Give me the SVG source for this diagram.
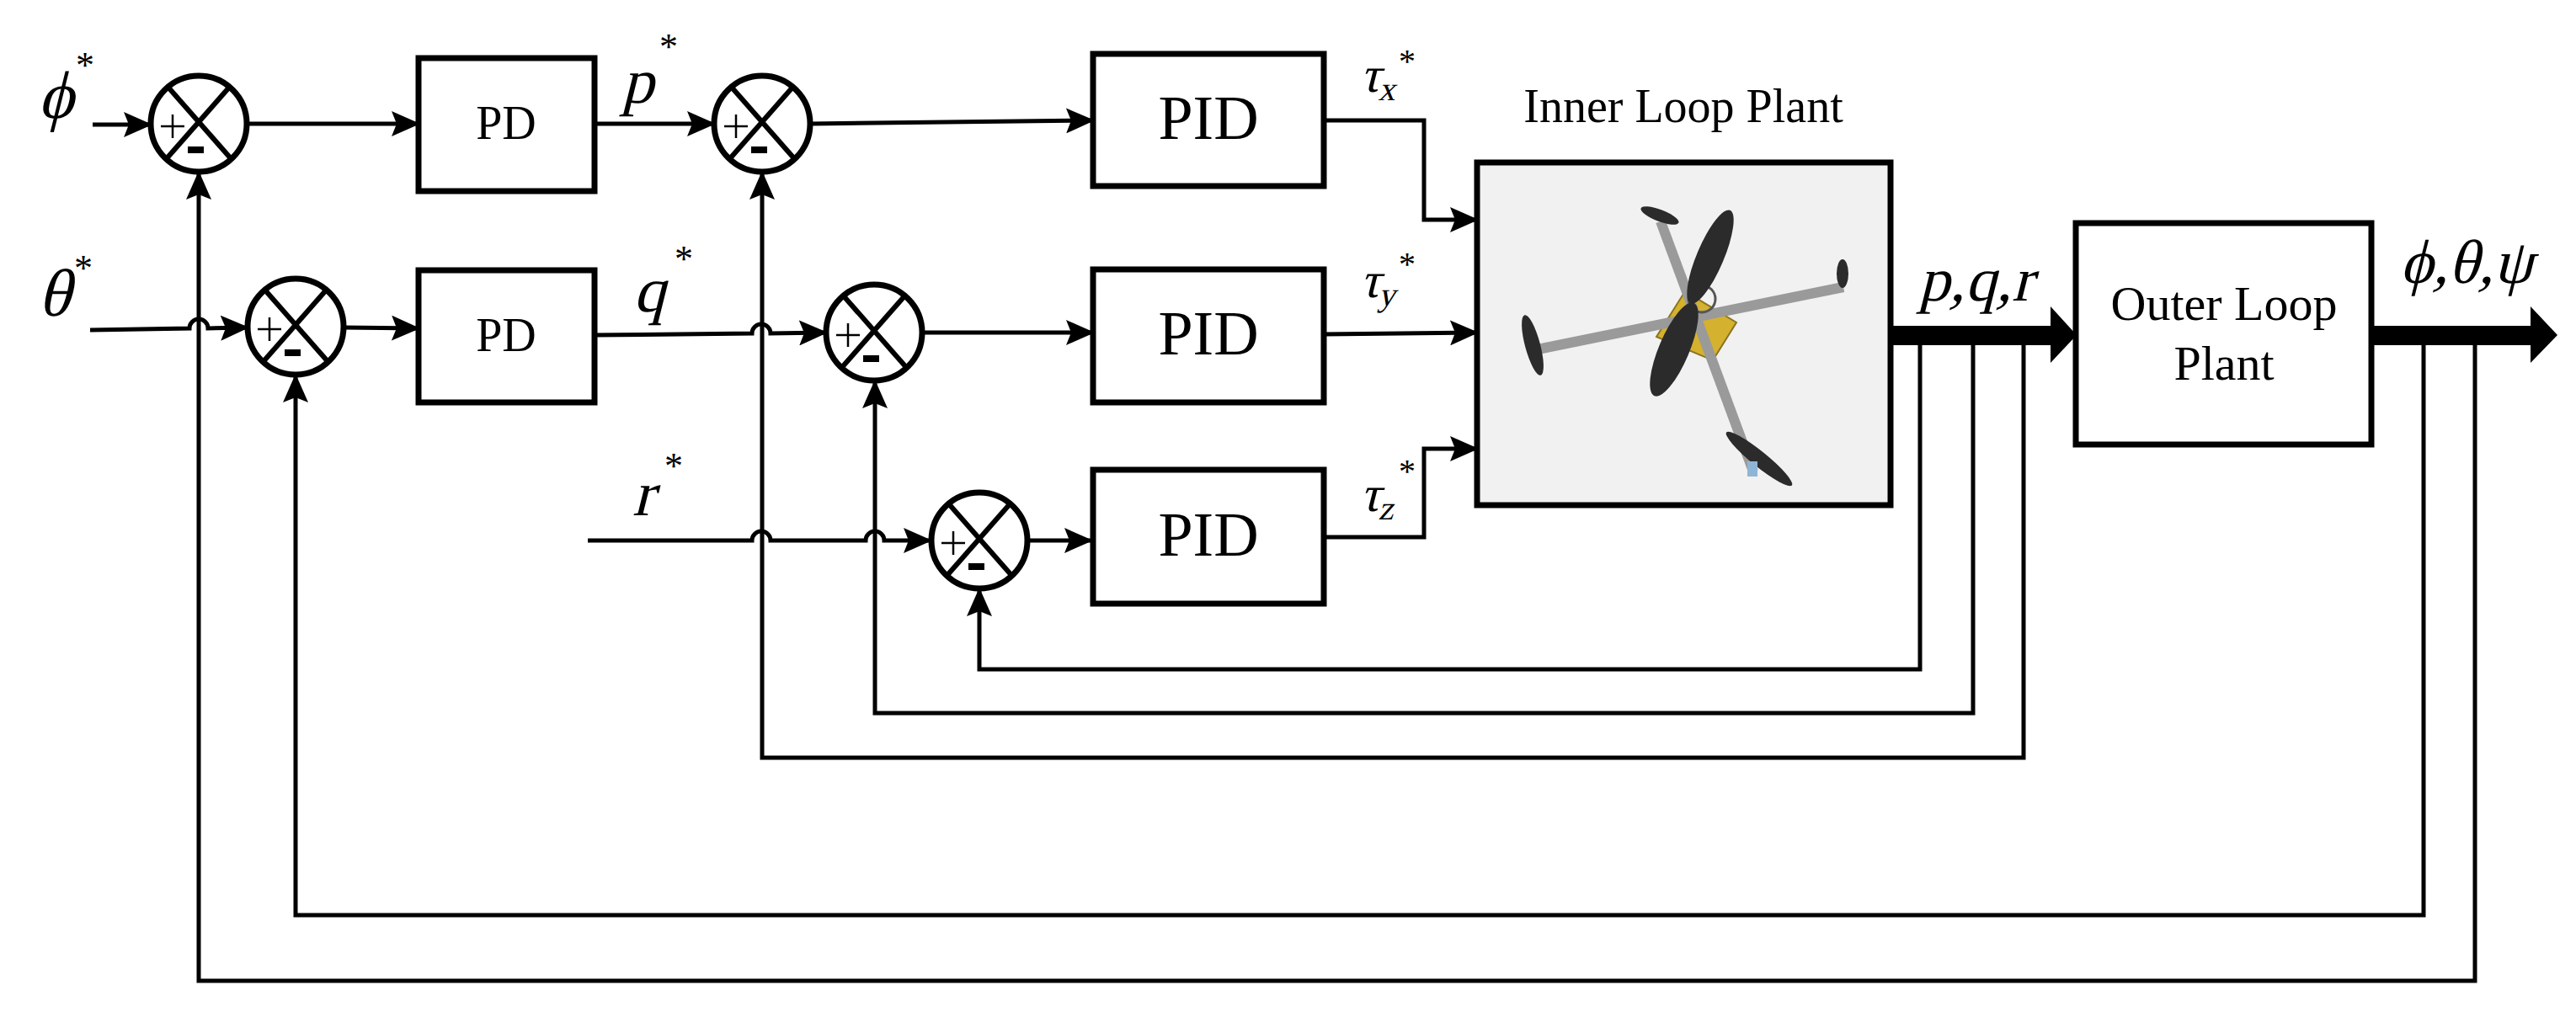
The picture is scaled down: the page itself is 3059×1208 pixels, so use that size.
<svg xmlns="http://www.w3.org/2000/svg" width="3059" height="1208" viewBox="0 0 3059 1208">
<style>
.box{fill:#fff;stroke:#000;stroke-width:7}
.sum{fill:#fff;stroke:#000;stroke-width:7}
.ln{fill:none;stroke:#000;stroke-width:5}
.t{font-family:"Liberation Serif",serif;fill:#000}
</style>
<defs>
<marker id="ah" markerUnits="userSpaceOnUse" markerWidth="34" markerHeight="30" refX="32" refY="15" orient="auto"><path d="M0,0 L34,15 L0,30 L6,15 Z" fill="#000"/></marker>
<g id="sumsym">
<circle r="57" class="sum"/>
<line x1="-35" y1="-42" x2="37" y2="40" stroke="#000" stroke-width="6"/>
<line x1="35" y1="-42" x2="-37" y2="40" stroke="#000" stroke-width="6"/>
<line x1="-45" y1="3" x2="-17" y2="3" stroke="#000" stroke-width="2.5"/>
<line x1="-31" y1="-11" x2="-31" y2="17" stroke="#000" stroke-width="2.5"/>
<rect x="-13" y="27" width="19" height="8" fill="#000"/>
</g>
</defs>
<rect width="3059" height="1208" fill="#fff"/>

<g id="connectors">
<path class="ln" d="M110,148 H179" marker-end="url(#ah)"/>
<path class="ln" d="M293,147 H497" marker-end="url(#ah)"/>
<path class="ln" d="M706,147 H848" marker-end="url(#ah)"/>
<path class="ln" d="M962,147 L1298,143" marker-end="url(#ah)"/>
<path class="ln" d="M1572,143 H1691 V261 H1754" marker-end="url(#ah)"/>
<path class="ln" d="M107,392 L225,390 A11,11 0 0 1 247,390 L294,389" marker-end="url(#ah)"/>
<path class="ln" d="M408,389 L497,390" marker-end="url(#ah)"/>
<path class="ln" d="M706,398 L893,396 A11,11 0 0 1 915,396 L981,395" marker-end="url(#ah)"/>
<path class="ln" d="M1095,395 L1298,395" marker-end="url(#ah)"/>
<path class="ln" d="M1572,397 L1754,395" marker-end="url(#ah)"/>
<path class="ln" d="M698,642 H893 A11,11 0 0 1 915,642 H1028 A11,11 0 0 1 1050,642 H1105" marker-end="url(#ah)"/>
<path class="ln" d="M1221,642 H1296" marker-end="url(#ah)"/>
<path class="ln" d="M1572,638 H1691 V533 H1754" marker-end="url(#ah)"/>
<rect x="2245" y="387" width="192" height="23" fill="#000"/>
<polygon points="2435,364 2466,398 2435,431" fill="#000"/>
<rect x="2816" y="387" width="192" height="23" fill="#000"/>
<polygon points="3005,364 3037,398 3005,431" fill="#000"/>
<path class="ln" d="M2280,410 V795 H1163 V700" marker-end="url(#ah)"/>
<path class="ln" d="M2343,410 V847 H1039 V453" marker-end="url(#ah)"/>
<path class="ln" d="M2403,410 V900 H905 V205" marker-end="url(#ah)"/>
<path class="ln" d="M2878,410 V1087 H351 V446" marker-end="url(#ah)"/>
<path class="ln" d="M2939,410 V1165 H236 V205" marker-end="url(#ah)"/>
</g>

<g id="sum1"><use href="#sumsym" x="236" y="147"/></g>
<g id="sum2"><use href="#sumsym" x="905" y="147"/></g>
<g id="sum3"><use href="#sumsym" x="351" y="388"/></g>
<g id="sum4"><use href="#sumsym" x="1038" y="395"/></g>
<g id="sum5"><use href="#sumsym" x="1163" y="642"/></g>

<g id="pd1"><rect class="box" x="497" y="69" width="209" height="158"/><text class="t" x="601" y="165" font-size="56" text-anchor="middle">PD</text></g>
<g id="pd2"><rect class="box" x="497" y="321" width="209" height="157"/><text class="t" x="601" y="417" font-size="56" text-anchor="middle">PD</text></g>
<g id="pid1"><rect class="box" x="1298" y="64" width="274" height="157"/><text class="t" x="1435" y="165" font-size="74" text-anchor="middle">PID</text></g>
<g id="pid2"><rect class="box" x="1298" y="320" width="274" height="158"/><text class="t" x="1435" y="421" font-size="74" text-anchor="middle">PID</text></g>
<g id="pid3"><rect class="box" x="1298" y="558" width="274" height="159"/><text class="t" x="1435" y="660" font-size="74" text-anchor="middle">PID</text></g>

<g id="inner">
<rect x="1754" y="193" width="491" height="407" fill="#f1f1f1" stroke="#000" stroke-width="7"/>
<text class="t" x="1999" y="145" font-size="56" text-anchor="middle">Inner Loop Plant</text>
<polygon points="1967,400 2001,346 2062,383 2034,428" fill="#d4b12e" stroke="#8a7420" stroke-width="2"/>
<line x1="1972" y1="263" x2="2082" y2="560" stroke="#9a9a9a" stroke-width="12"/>
<line x1="1821" y1="416" x2="2189" y2="341" stroke="#9a9a9a" stroke-width="12"/>
<circle cx="2021" cy="355" r="16" fill="none" stroke="#555" stroke-width="3"/>
<ellipse cx="2031" cy="305" rx="60" ry="16" transform="rotate(-67 2031 305)" fill="#2b2b2b"/>
<ellipse cx="1988" cy="415" rx="60" ry="18" transform="rotate(-67 1988 415)" fill="#2b2b2b"/>
<ellipse cx="1971" cy="256" rx="24" ry="7" transform="rotate(21 1971 256)" fill="#2b2b2b"/>
<ellipse cx="1820" cy="410" rx="37" ry="9" transform="rotate(75 1820 410)" fill="#2b2b2b"/>
<ellipse cx="2188" cy="325" rx="17" ry="7" transform="rotate(90 2188 325)" fill="#2b2b2b"/>
<ellipse cx="2089" cy="545" rx="50" ry="9" transform="rotate(39 2089 545)" fill="#2b2b2b"/>
<rect x="2075" y="548" width="12" height="18" fill="#8fb5d6"/>
</g>

<g id="outer"><rect class="box" x="2465" y="265" width="351" height="263"/>
<text class="t" x="2641" y="380" font-size="58" text-anchor="middle">Outer Loop</text>
<text class="t" x="2641" y="451" font-size="58" text-anchor="middle">Plant</text></g>

<g id="labels">
<text class="t" transform="translate(45,140) skewX(-14)" font-size="80">ϕ</text><text class="t" x="90" y="92" font-size="44">*</text>
<text class="t" transform="translate(45,375) skewX(-14)" font-size="80">θ</text><text class="t" x="88" y="333" font-size="44">*</text>
<text class="t" transform="translate(738,122) skewX(-14)" font-size="76">p</text><text class="t" x="783" y="70" font-size="44">*</text>
<text class="t" transform="translate(752,370) skewX(-14)" font-size="76">q</text><text class="t" x="801" y="322" font-size="44">*</text>
<text class="t" transform="translate(751,612) skewX(-14)" font-size="76">r</text><text class="t" x="789" y="568" font-size="44">*</text>
<text class="t" transform="translate(1615,109) skewX(-14)" font-size="60">τ<tspan font-size="40" dy="10">x</tspan></text><text class="t" x="1661" y="86" font-size="40">*</text>
<text class="t" transform="translate(1615,353) skewX(-14)" font-size="60">τ<tspan font-size="40" dy="10">y</tspan></text><text class="t" x="1661" y="327" font-size="40">*</text>
<text class="t" transform="translate(1615,607) skewX(-14)" font-size="60">τ<tspan font-size="40" dy="10">z</tspan></text><text class="t" x="1661" y="573" font-size="40">*</text>
<text class="t" transform="translate(2278,357) skewX(-14)" font-size="74">p,q,r</text>
<text class="t" transform="translate(2850,336) skewX(-14)" font-size="74">ϕ,θ,ψ</text>
</g>
</svg>
